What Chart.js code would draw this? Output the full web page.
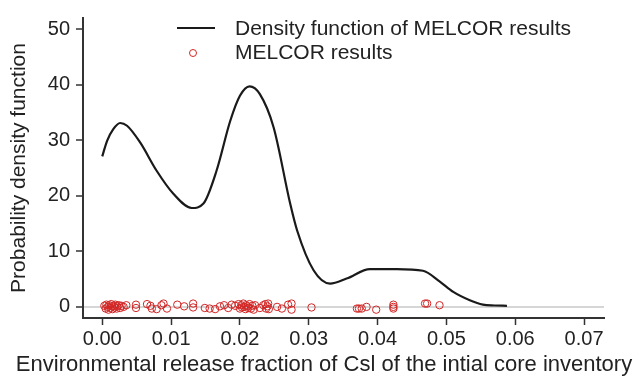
<!DOCTYPE html>
<html>
<head>
<meta charset="utf-8">
<script src="https://cdn.jsdelivr.net/npm/chart.js@4/dist/chart.umd.min.js"></script>
<style>
  html, body { margin: 0; padding: 0; background: #fff; }
  #wrap { width: 641px; height: 377px; }
</style>
</head>
<body>
<div id="wrap"><canvas id="chart" width="641" height="377"></canvas></div>
<script>
// Density curve
const curveX = [0.0000, 0.0007, 0.0016, 0.0026, 0.0036, 0.0055, 0.0079, 0.0103, 0.0130, 0.0147,
                0.0166, 0.0186, 0.0200, 0.0214, 0.0229, 0.0249, 0.0273, 0.0283, 0.0307, 0.0331,
                0.0355, 0.0389, 0.0428, 0.0466, 0.0490, 0.0510, 0.0534, 0.0553, 0.0570, 0.0588];
const curveY = [27.1, 29.9, 32.0, 33.1, 32.6, 29.6, 24.5, 20.4, 17.8, 18.6,
                24.5, 33.5, 38.0, 39.7, 38.3, 32.3, 18.6, 13.8, 6.6, 4.2,
                5.1, 6.8, 6.8, 6.5, 4.6, 2.7, 1.2, 0.4, 0.25, 0.2];

// MELCOR results (jittered around zero)
const resultX = [0.0003, 0.0005, 0.0006, 0.0008, 0.0009, 0.0010, 0.0012, 0.0013, 0.0014, 0.0015,
                 0.0017, 0.0018, 0.0019, 0.0021, 0.0022, 0.0024, 0.0026, 0.0028, 0.0031, 0.0035,
                 0.0049, 0.0049, 0.0065, 0.0070, 0.0072, 0.0079, 0.0086, 0.0089, 0.0094, 0.0109,
                 0.0119, 0.0132, 0.0132, 0.0149, 0.0156, 0.0164, 0.0171, 0.0177, 0.0183, 0.0188,
                 0.0193, 0.0198, 0.0200, 0.0202, 0.0203, 0.0205, 0.0206, 0.0208, 0.0209, 0.0211,
                 0.0212, 0.0214, 0.0216, 0.0218, 0.0220, 0.0222, 0.0229, 0.0234, 0.0237, 0.0238,
                 0.0240, 0.0241, 0.0242, 0.0254, 0.0261, 0.0270, 0.0275, 0.0275, 0.0304, 0.0370,
                 0.0373, 0.0377, 0.0384, 0.0398, 0.0423, 0.0423, 0.0423, 0.0469, 0.0472, 0.0490];
const resultY = [0.2, -0.3, 0.4, 0.0, -0.5, 0.3, -0.2, 0.5, 0.1, -0.4,
                 0.2, -0.1, 0.4, -0.3, 0.1, 0.3, -0.2, 0.2, 0.0, 0.3,
                 0.4, -0.2, 0.5, 0.2, -0.3, -0.4, 0.3, 0.6, -0.3, 0.4,
                 0.1, 0.6, -0.1, -0.2, -0.3, -0.4, 0.1, 0.3, -0.2, 0.4,
                 0.2, 0.5, -0.3, 0.3, -0.1, 0.6, 0.0, -0.4, 0.3, 0.1,
                 -0.2, 0.5, -0.3, 0.2, -0.5, 0.3, -0.2, 0.3, 0.5, -0.3,
                 0.1, 0.6, -0.4, 0.0, -0.3, 0.4, -0.5, 0.6, -0.1, -0.3,
                 -0.3, -0.3, 0.0, -0.5, 0.4, 0.0, -0.3, 0.6, 0.6, 0.3];

const xTicks = [0, 0.01, 0.02, 0.03, 0.04, 0.05, 0.06, 0.07];
const yTicks = [0, 10, 20, 30, 40, 50];
const xRange = [-0.0028, 0.0729];
const yRange = [-2, 52];

const seriesNames = ['Density function of MELCOR results', 'MELCOR results'];
const xTitle = 'Environmental release fraction of Csl of the intial core inventory';
const yTitle = 'Probability density function';

const FONT = "'Liberation Sans', Arial, Helvetica, sans-serif";
const RED = 'rgb(210, 38, 38)';
const AXIS = '#333';

// legend inside the plot + x title wider than the plot (chart.js clips it to the scale width)
const extras = {
  id: 'extras',
  afterDraw(chart) {
    const { ctx, chartArea } = chart;
    const x0 = chartArea.left + 94;
    const y1 = chartArea.top + 10;
    const y2 = chartArea.top + 35;
    ctx.save();
    ctx.strokeStyle = '#1a1a1a';
    ctx.lineWidth = 2;
    ctx.beginPath();
    ctx.moveTo(x0, y1);
    ctx.lineTo(x0 + 38, y1);
    ctx.stroke();
    ctx.strokeStyle = RED;
    ctx.lineWidth = 1;
    ctx.beginPath();
    ctx.arc(x0 + 16, y2, 3.5, 0, Math.PI * 2);
    ctx.stroke();
    ctx.fillStyle = '#222';
    ctx.font = '21px ' + FONT;
    ctx.textBaseline = 'middle';
    ctx.fillText(seriesNames[0], x0 + 58, y1 + 1);
    ctx.fillText(seriesNames[1], x0 + 58, y2);

    ctx.font = '22px ' + FONT;
    ctx.textAlign = 'center';
    ctx.fillText(xTitle, 324, chart.height - 12);
    ctx.restore();
  }
};

new Chart(document.getElementById('chart'), {
  type: 'scatter',
  data: {
    datasets: [
      {
        label: seriesNames[1],
        data: resultX.map((x, i) => ({ x: x, y: resultY[i] })),
        showLine: false,
        pointStyle: 'circle',
        pointRadius: 3.7,
        pointBorderWidth: 1,
        borderColor: RED,
        backgroundColor: 'rgba(0,0,0,0)',
        order: 1
      },
      {
        label: seriesNames[0],
        type: 'line',
        data: curveX.map((x, i) => ({ x: x, y: curveY[i] })),
        borderColor: '#1a1a1a',
        borderWidth: 2.2,
        pointRadius: 0,
        cubicInterpolationMode: 'monotone',
        fill: false,
        order: 0
      }
    ]
  },
  options: {
    responsive: false,
    animation: false,
    layout: { padding: { left: 5, right: 37, top: 17, bottom: 0 } },
    plugins: {
      legend: { display: false },
      tooltip: { enabled: false }
    },
    scales: {
      x: {
        type: 'linear',
        min: xRange[0],
        max: xRange[1],
        afterBuildTicks: s => { s.ticks = xTicks.map(v => ({ value: v })); },
        afterFit: s => { s.height = 59; },
        border: { color: AXIS, width: 2 },
        grid: { drawOnChartArea: false, drawTicks: true, tickLength: 7, tickColor: AXIS, tickWidth: 1.5 },
        ticks: {
          color: '#222',
          font: { family: FONT, size: 20 },
          padding: 2,
          maxRotation: 0,
          callback: v => v.toFixed(2)
        },
        title: { display: false }
      },
      y: {
        min: yRange[0],
        max: yRange[1],
        afterBuildTicks: s => { s.ticks = yTicks.map(v => ({ value: v })); },
        afterFit: s => { s.width = 78; },
        border: { color: AXIS, width: 2 },
        grid: {
          color: c => (c.tick && c.tick.value === 0 ? '#d6d6d6' : 'rgba(0,0,0,0)'),
          lineWidth: c => (c.tick && c.tick.value === 0 ? 2 : 0),
          drawTicks: true,
          tickLength: 7,
          tickColor: AXIS,
          tickWidth: 1.5
        },
        ticks: {
          color: '#222',
          font: { family: FONT, size: 20 },
          padding: 6
        },
        title: {
          display: true,
          text: yTitle,
          color: '#222',
          font: { family: FONT, size: 21 },
          padding: { top: 2, bottom: 2 }
        }
      }
    }
  },
  plugins: [extras]
});
</script>
</body>
</html>
